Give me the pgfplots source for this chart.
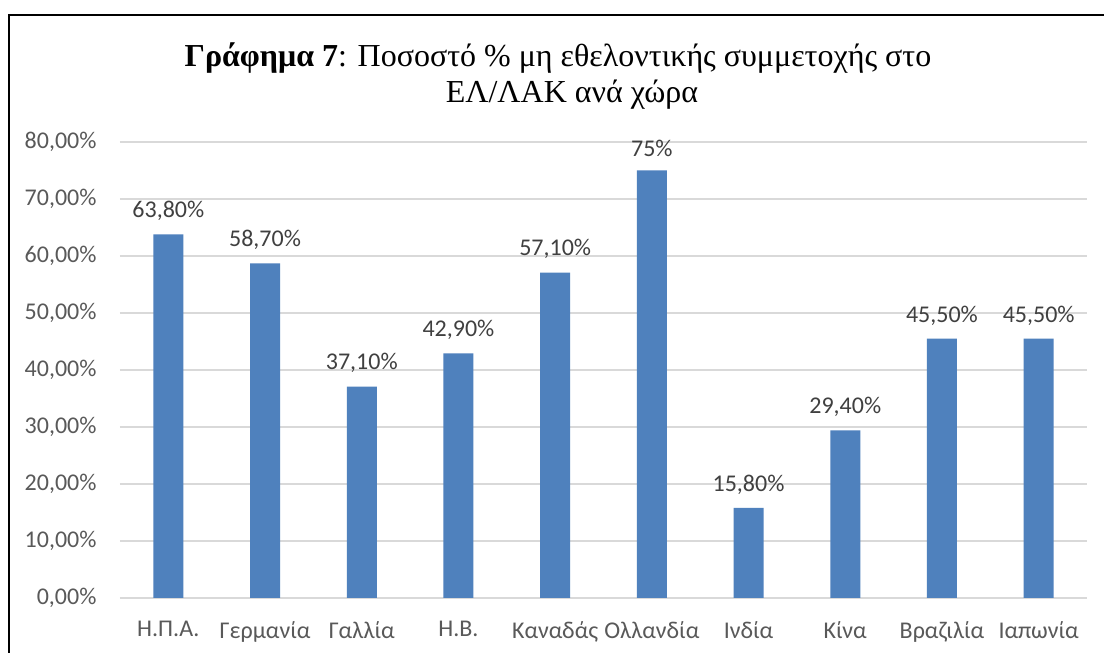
\documentclass[border=0pt]{standalone}
\usepackage{pgfplots}
\pgfplotsset{compat=1.18}
\usepackage{pgfplotstable}
\usepackage{fontspec}
\setmainfont{Carlito}
\newfontfamily\titlefont{Liberation Serif}
\definecolor{barblue}{HTML}{4F81BD}
\definecolor{gridgray}{HTML}{D9D9D9}
\definecolor{tickgray}{HTML}{595959}
\definecolor{labelgray}{HTML}{404040}
\pgfplotstableread{
x y label
0 63.8 63,80
1 58.7 58,70
2 37.1 37,10
3 42.9 42,90
4 57.1 57,10
5 75.0 75
6 15.8 15,80
7 29.4 29,40
8 45.5 45,50
9 45.5 45,50
}\datatable
\begin{document}
\begin{tikzpicture}[x=1pt,y=1pt]
\clip (0,0) rectangle (1104,653);
\useasboundingbox (0,0) rectangle (1104,653);
\fill[white] (0,0) rectangle (1104,653);
\draw[black, line width=2pt] (9,-20) -- (9,638) -- (1120,638);
\node[font=\titlefont\fontsize{32}{40}\selectfont, anchor=base, inner sep=0pt] at (558,586)
  {\textbf{Γράφημα 7}: Ποσοστό \% μη εθελοντικής συμμετοχής στο};
\node[font=\titlefont\fontsize{32}{40}\selectfont, anchor=base, inner sep=0pt] at (572,550)
  {ΕΛ/ΛΑΚ ανά χώρα};
\begin{axis}[
  at={(120pt,55pt)}, anchor=south west,
  scale only axis,
  width=967pt, height=456pt,
  xmin=-0.5, xmax=9.5, ymin=0, ymax=80,
  axis line style={draw=none},
  ybar, bar width=30pt,
  ytick={0,10,...,80},
  yticklabels={{0,00\%},{10,00\%},{20,00\%},{30,00\%},{40,00\%},{50,00\%},{60,00\%},{70,00\%},{80,00\%}},
  xtick=data,
  xticklabels={Η.Π.Α.,Γερμανία,Γαλλία,Η.Β.,Καναδάς,Ολλανδία,Ινδία,Κίνα,Βραζιλία,Ιαπωνία},
  ymajorgrids, grid style={gridgray, line width=2pt},
  major tick length=0pt,
  tick label style={font=\fontsize{24}{28}\selectfont, text=tickgray},
  yticklabel style={xshift=-20pt},
  xticklabel style={yshift=-20pt},
  nodes near coords={\pgfplotspointmeta\%},
  point meta=explicit symbolic,
  every node near coord/.append style={font=\fontsize{24}{28}\selectfont, text=labelgray, yshift=10pt},
  clip=false,
]
\addplot[fill=barblue, draw=none] table[x=x, y=y, meta=label]{\datatable};
\end{axis}
\end{tikzpicture}
\end{document}
